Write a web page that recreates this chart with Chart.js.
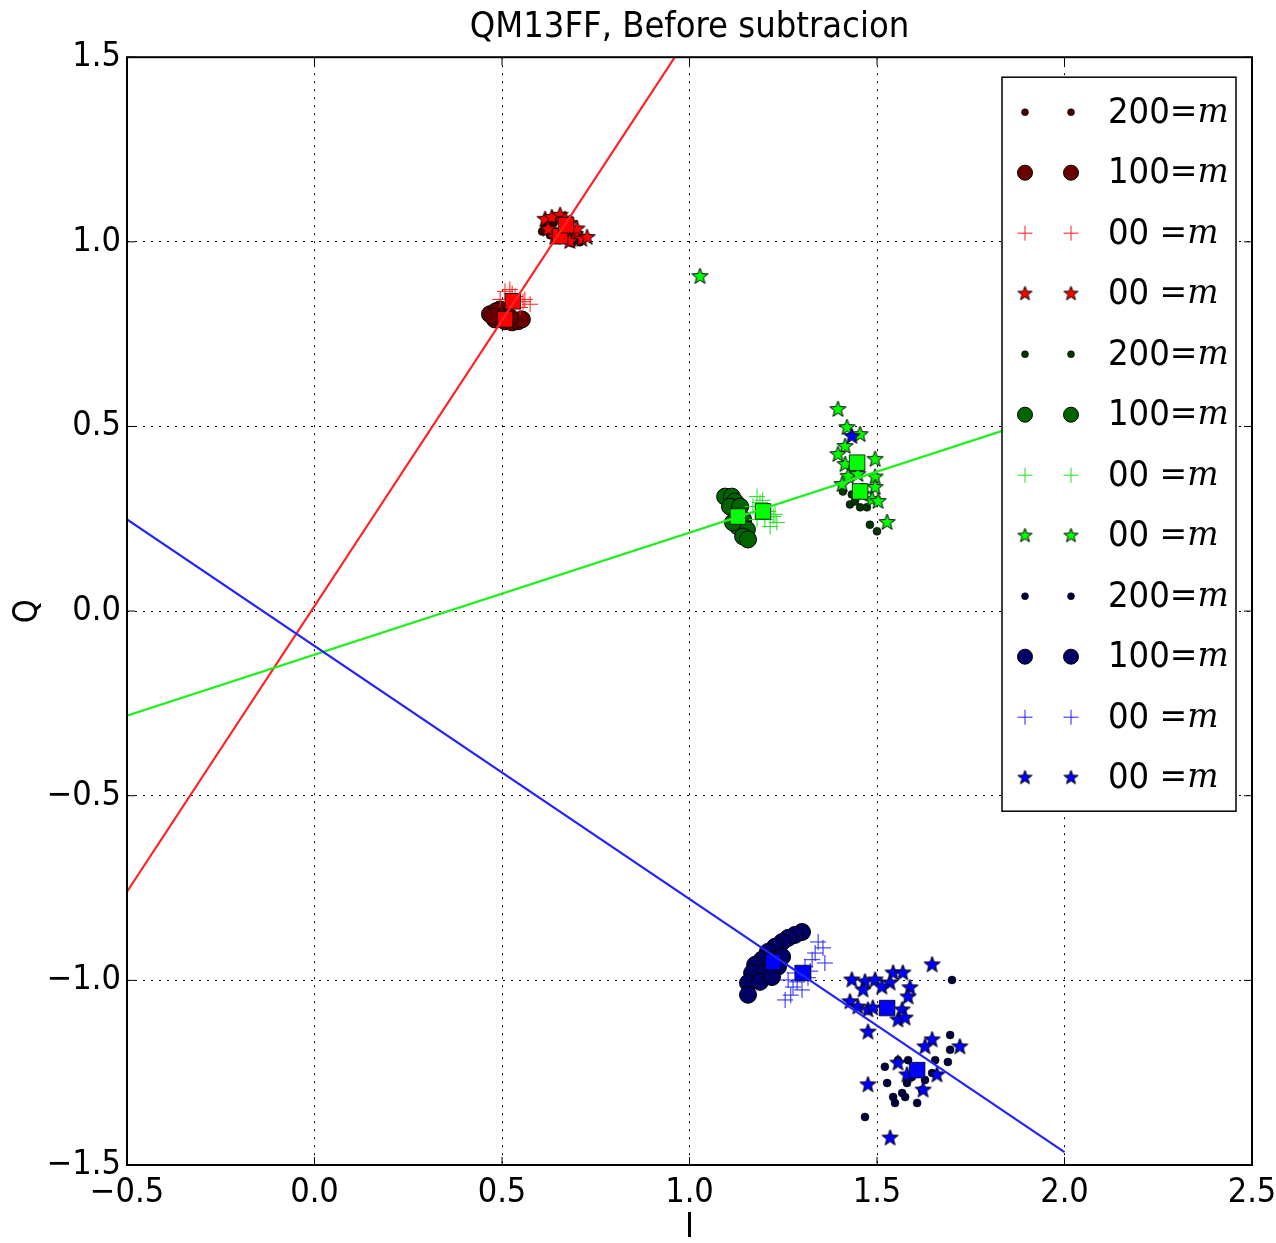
<!DOCTYPE html>
<html>
<head>
<meta charset="utf-8">
<script src="https://cdn.jsdelivr.net/npm/chart.js@4.4.0/dist/chart.umd.min.js"></script>
<style>
  html, body { margin: 0; padding: 0; background: #fff; }
</style>
</head>
<body>
<canvas id="qu" width="1276" height="1243"></canvas>
<script>
// ---- data (I, Q) ----
const redDots200 = [[0.607,1.028],[0.628,1.018],[0.655,1.007],[0.687,0.996],[0.708,0.999],[0.615,1.045],[0.647,1.028],[0.672,1.012],[0.695,1.010],[0.638,1.052]];
const redCircles100 = [[0.468,0.804],[0.481,0.790],[0.495,0.817],[0.508,0.785],[0.527,0.782],[0.543,0.785],[0.553,0.790],[0.484,0.812],[0.521,0.796],[0.476,0.798]];
const redPlus00 = [[0.508,0.866],[0.521,0.871],[0.561,0.844],[0.575,0.831],[0.495,0.844],[0.535,0.852],[0.548,0.822],[0.527,0.860],[0.556,0.838]];
const redStars00 = [[0.615,1.061],[0.633,1.066],[0.655,1.072],[0.623,1.034],[0.695,1.020],[0.713,1.007],[0.681,1.001],[0.641,1.012],[0.727,1.012],[0.668,1.061],[0.680,1.050],[0.700,1.035]];
const redMeans = [[0.655,1.015],[0.508,0.790],[0.529,0.839],[0.671,1.045]];

const greenDots200 = [[1.409,0.324],[1.428,0.289],[1.455,0.281],[1.481,0.234],[1.500,0.216],[1.473,0.281],[1.441,0.297],[1.463,0.335],[1.433,0.316]];
const greenCircles100 = [[1.095,0.310],[1.113,0.310],[1.121,0.297],[1.108,0.283],[1.135,0.283],[1.127,0.256],[1.143,0.248],[1.129,0.229],[1.153,0.221],[1.143,0.202],[1.156,0.194],[1.116,0.240]];
const greenPlus00 = [[1.180,0.310],[1.188,0.294],[1.169,0.283],[1.209,0.270],[1.223,0.256],[1.233,0.240],[1.215,0.229],[1.180,0.248],[1.201,0.248],[1.195,0.300],[1.228,0.262]];
const greenStars00 = [[1.028,0.906],[1.396,0.546],[1.420,0.497],[1.455,0.478],[1.415,0.446],[1.396,0.424],[1.415,0.397],[1.495,0.411],[1.423,0.365],[1.495,0.363],[1.495,0.335],[1.487,0.302],[1.503,0.297],[1.527,0.240],[1.460,0.316],[1.407,0.343],[1.449,0.370]];
const greenMeans = [[1.455,0.324],[1.129,0.256],[1.196,0.270],[1.447,0.402]];

const blueDots200 = [[1.700,-0.999],[1.468,-1.370],[1.695,-1.148],[1.695,-1.188],[1.689,-1.221],[1.521,-1.234],[1.527,-1.278],[1.548,-1.332],[1.607,-1.332],[1.567,-1.305],[1.580,-1.278],[1.593,-1.262],[1.628,-1.270],[1.655,-1.216],[1.647,-1.251],[1.556,-1.216],[1.583,-1.216],[1.620,-1.297],[1.575,-1.316],[1.543,-1.316]];
const blueCircles100 = [[1.300,-0.869],[1.281,-0.877],[1.263,-0.885],[1.247,-0.896],[1.228,-0.909],[1.209,-0.923],[1.220,-0.944],[1.193,-0.944],[1.175,-0.958],[1.247,-0.936],[1.236,-0.963],[1.167,-0.980],[1.201,-0.980],[1.156,-1.007],[1.188,-1.004],[1.156,-1.039],[1.220,-0.991]];
const bluePlus00 = [[1.343,-0.896],[1.356,-0.912],[1.335,-0.926],[1.327,-0.944],[1.361,-0.953],[1.281,-0.980],[1.263,-0.999],[1.276,-1.018],[1.300,-1.026],[1.255,-1.053],[1.316,-0.993],[1.287,-1.004],[1.308,-0.963],[1.322,-0.975],[1.270,-1.040]];
const blueStars00 = [[1.433,0.473],[1.647,-0.958],[1.433,-0.999],[1.468,-1.004],[1.495,-0.999],[1.543,-0.980],[1.569,-0.980],[1.535,-1.007],[1.588,-1.020],[1.583,-1.045],[1.428,-1.058],[1.463,-1.026],[1.449,-1.072],[1.476,-1.080],[1.513,-1.018],[1.567,-1.080],[1.556,-1.107],[1.575,-1.102],[1.476,-1.140],[1.489,-1.075],[1.647,-1.161],[1.628,-1.180],[1.721,-1.180],[1.556,-1.224],[1.580,-1.256],[1.660,-1.256],[1.623,-1.297],[1.476,-1.283],[1.535,-1.427]];
const blueMeans = [[1.607,-1.243],[1.223,-0.950],[1.303,-0.980],[1.527,-1.075]];

const redLine = [[-0.5,-0.760],[2.0,3.108]];
const greenLine = [[-0.5,-0.283],[2.0,0.543]];
const blueLine = [[-0.5,0.248],[2.0,-1.465]];

const legendLabels = ['200', '100', '00 ', '00 ', '200', '100', '00 ', '00 ', '200', '100', '00 ', '00 '];

const FONT = "'DejaVu Sans Condensed', 'DejaVu Sans', sans-serif";

function pts(arr) { return arr.map(p => ({ x: p[0], y: p[1] })); }

function starImage(fill, r) {
    const s = Math.ceil(2 * r + 4);
    const c = document.createElement('canvas');
    c.width = s; c.height = s;
    const g = c.getContext('2d');
    g.translate(s / 2, s / 2);
    g.beginPath();
    for (let i = 0; i < 10; i++) {
        const rad = i % 2 === 0 ? r : r * 0.42;
        const a = -Math.PI / 2 + i * Math.PI / 5;
        g.lineTo(rad * Math.cos(a), rad * Math.sin(a));
    }
    g.closePath();
    g.fillStyle = fill;
    g.fill();
    g.lineWidth = 1;
    g.strokeStyle = '#000';
    g.stroke();
    return c;
}

// marker styles, one per legend row
const groups = [
    { data: redDots200, kind: 'dot', color: '#3a0000' },
    { data: redCircles100, kind: 'circle', color: '#680000' },
    { data: redPlus00, kind: 'plus', color: '#ff1a1a' },
    { data: redStars00, kind: 'star', color: '#ff0000' },
    { data: greenDots200, kind: 'dot', color: '#003300' },
    { data: greenCircles100, kind: 'circle', color: '#006400' },
    { data: greenPlus00, kind: 'plus', color: '#22dd22' },
    { data: greenStars00, kind: 'star', color: '#00ff00' },
    { data: blueDots200, kind: 'dot', color: '#00003a' },
    { data: blueCircles100, kind: 'circle', color: '#000066' },
    { data: bluePlus00, kind: 'plus', color: '#2222ff' },
    { data: blueStars00, kind: 'star', color: '#0000ff' }
];

function markerProps(g) {
    if (g.kind === 'dot') return { pointStyle: 'circle', pointRadius: 4, pointBackgroundColor: g.color, pointBorderColor: '#000', pointBorderWidth: 0.5 };
    if (g.kind === 'circle') return { pointStyle: 'circle', pointRadius: 8.5, pointBackgroundColor: g.color, pointBorderColor: '#000', pointBorderWidth: 1 };
    if (g.kind === 'plus') return { pointStyle: 'cross', pointRadius: 8, pointBackgroundColor: g.color, pointBorderColor: g.color, pointBorderWidth: 1 };
    return { pointStyle: starImage(g.color, 8.5), pointRadius: 8.5, pointBackgroundColor: g.color, pointBorderColor: '#000', pointBorderWidth: 1 };
}

const datasets = [];
groups.forEach(g => {
    datasets.push(Object.assign({ data: pts(g.data) }, markerProps(g)));
});
[[redMeans, '#ff0000'], [greenMeans, '#00ff00'], [blueMeans, '#0000ff']].forEach(m => {
    datasets.push({ data: pts(m[0]), pointStyle: 'rect', pointRadius: 11, pointBackgroundColor: m[1], pointBorderColor: '#000', pointBorderWidth: 0.8 });
});
[[redLine, '#ff2222'], [greenLine, '#22ee22'], [blueLine, '#2222ff']].forEach(l => {
    datasets.push({ data: pts(l[0]), showLine: true, pointRadius: 0, borderColor: l[1], borderWidth: 2.2 });
});
// paint in array order: later datasets on top
datasets.forEach((d, i) => { d.order = datasets.length - i; });

const tickFmt = v => v.toFixed(1).replace('-', '\u2212');

const framePlugin = {
    id: 'frame',
    afterDraw(chart) {
        const { ctx, chartArea: a, scales } = chart;
        ctx.save();
        // inward tick marks on all sides
        ctx.strokeStyle = '#000';
        ctx.lineWidth = 1;
        scales.x.ticks.forEach(t => {
            const px = scales.x.getPixelForValue(t.value);
            ctx.beginPath();
            ctx.moveTo(px, a.bottom); ctx.lineTo(px, a.bottom - 8);
            ctx.moveTo(px, a.top); ctx.lineTo(px, a.top + 8);
            ctx.stroke();
        });
        scales.y.ticks.forEach(t => {
            const py = scales.y.getPixelForValue(t.value);
            ctx.beginPath();
            ctx.moveTo(a.left, py); ctx.lineTo(a.left + 8, py);
            ctx.moveTo(a.right, py); ctx.lineTo(a.right - 8, py);
            ctx.stroke();
        });
        ctx.lineWidth = 2;
        ctx.strokeRect(a.left, a.top, a.right - a.left, a.bottom - a.top);

        // legend box
        const bx = a.right - 250, by = a.top + 20, bw = 234, bh = 734;
        ctx.fillStyle = '#fff';
        ctx.fillRect(bx, by, bw, bh);
        ctx.lineWidth = 1.5;
        ctx.strokeRect(bx, by, bw, bh);
        groups.forEach((g, i) => {
            const ds = chart.data.datasets[i];
            const y = by + 35 + i * 60.5;
            const r = g.kind === 'dot' ? 3.5 : 7.5;
            [bx + 23, bx + 69].forEach(x => {
                ctx.fillStyle = ds.pointBackgroundColor;
                ctx.strokeStyle = ds.pointBorderColor;
                ctx.lineWidth = ds.pointBorderWidth;
                const style = g.kind === 'star' ? starImage(g.color, 7.5) : ds.pointStyle;
                Chart.helpers.drawPoint(ctx, { pointStyle: style, radius: r, rotation: 0, borderWidth: ds.pointBorderWidth }, x, y);
            });
            ctx.fillStyle = '#000';
            ctx.textBaseline = 'middle';
            ctx.textAlign = 'left';
            ctx.font = '36px ' + FONT;
            const tx = bx + 106;
            ctx.fillText(legendLabels[i], tx, y + 1);
            const w = ctx.measureText(legendLabels[i]).width;
            ctx.font = 'italic 33px "DejaVu Serif", serif';
            ctx.fillText('=', tx + w, y + 1);
            const we = ctx.measureText('=').width;
            ctx.fillText('m', tx + w + we, y + 1);
        });
        ctx.restore();
    }
};

new Chart(document.getElementById('qu').getContext('2d'), {
    type: 'scatter',
    data: { datasets: datasets },
    options: {
        responsive: false,
        animation: false,
        events: [],
        layout: { padding: { left: 0, right: 24, top: 0, bottom: 0 } },
        plugins: {
            legend: { display: false },
            tooltip: { enabled: false },
            title: {
                display: true,
                fullSize: false,
                text: 'QM13FF, Before subtracion',
                color: '#000',
                font: { family: FONT, size: 36, weight: 'normal' },
                padding: { top: 6, bottom: 8 }
            }
        },
        scales: {
            x: {
                type: 'linear', min: -0.5, max: 2.5,
                ticks: { stepSize: 0.5, color: '#000', font: { family: FONT, size: 34 }, padding: 8, callback: tickFmt },
                grid: { color: '#000', lineWidth: 1, drawTicks: false },
                border: { display: false, dash: [2, 6] },
                title: { display: true, text: 'I', color: '#000', font: { family: FONT, size: 34 }, padding: { top: 14, bottom: -6 } },
                afterFit(scale) { scale.height = 78; scale.paddingLeft = 0; scale.paddingRight = 0; }
            },
            y: {
                type: 'linear', min: -1.5, max: 1.5,
                ticks: { stepSize: 0.5, color: '#000', font: { family: FONT, size: 34 }, padding: 6, callback: tickFmt },
                grid: { color: '#000', lineWidth: 1, drawTicks: false },
                border: { display: false, dash: [2, 6] },
                title: { display: true, text: 'Q', color: '#000', font: { family: FONT, size: 34 }, padding: { top: 8, bottom: 0 } },
                afterFit(scale) { scale.width = 127; }
            }
        }
    },
    plugins: [framePlugin]
});
</script>
</body>
</html>
